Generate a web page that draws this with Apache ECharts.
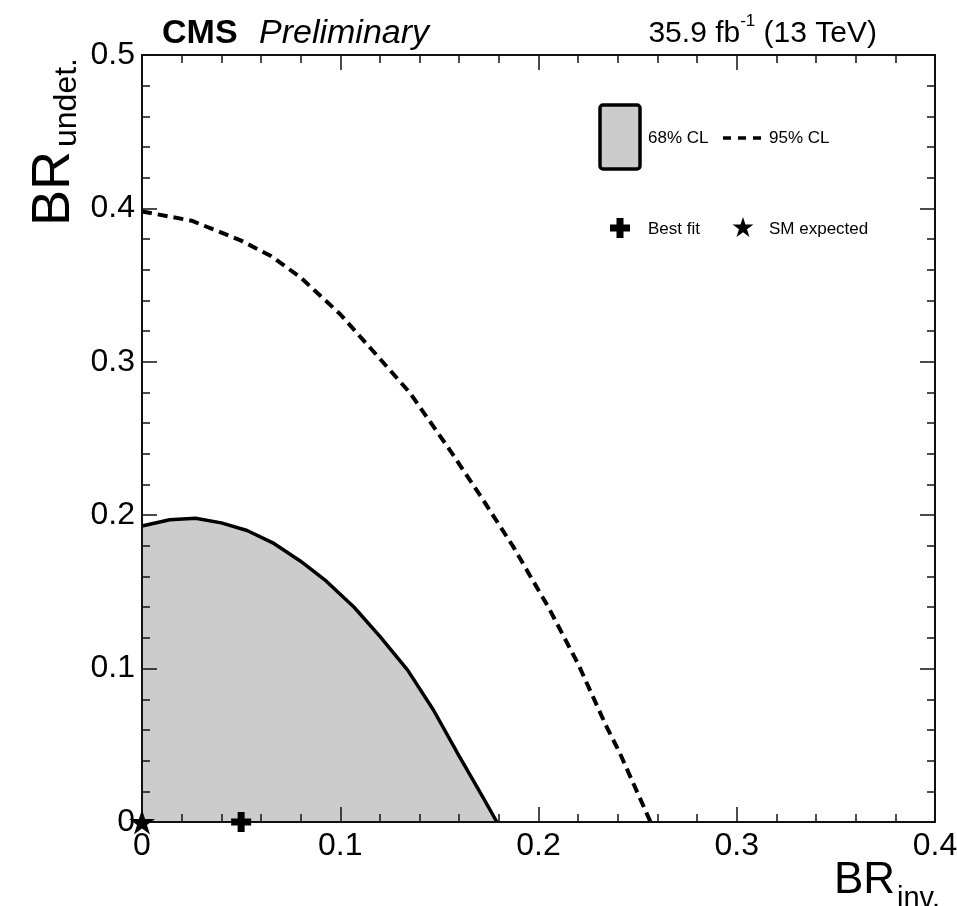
<!DOCTYPE html>
<html>
<head>
<meta charset="utf-8">
<script src="https://cdn.jsdelivr.net/npm/echarts@6/dist/echarts.min.js"></script>
<style>
html,body{margin:0;padding:0;background:#fff;}
#main{width:957px;height:906px;}
</style>
</head>
<body>
<div id="main"></div>
<script>
// ---- data ----
const xTicks = [0, 0.1, 0.2, 0.3, 0.4];
const yTicks = [0, 0.1, 0.2, 0.3, 0.4, 0.5];
// 68% CL contour (BR_inv, BR_undet)
const cl68X = [0, 0.014, 0.027, 0.040, 0.053, 0.066, 0.080, 0.093, 0.107, 0.120, 0.134, 0.147, 0.160, 0.172, 0.179];
const cl68Y = [0.193, 0.197, 0.198, 0.195, 0.190, 0.182, 0.170, 0.157, 0.140, 0.121, 0.099, 0.073, 0.043, 0.016, 0.000];
// 95% CL contour
const cl95X = [0, 0.025, 0.050, 0.065, 0.080, 0.100, 0.120, 0.135, 0.155, 0.170, 0.187, 0.205, 0.220, 0.234, 0.241, 0.2565];
const cl95Y = [0.398, 0.392, 0.379, 0.369, 0.355, 0.331, 0.302, 0.280, 0.243, 0.214, 0.180, 0.140, 0.103, 0.063, 0.045, 0.000];
const bestFit = [0.05, 0.0];
const smExpected = [0.0, 0.0];

const FONT = "'Liberation Sans', Arial, Helvetica, sans-serif";
const zip = (a, b) => a.map((v, i) => [v, b[i]]);

const plusPath = 'path://M6.5,0 H13.5 V6.5 H20 V13.5 H13.5 V20 H6.5 V13.5 H0 V6.5 H6.5 Z';
const starPath = 'path://M100,0 L122.45,69.1 L195.1,69.1 L136.3,111.8 L158.8,180.9 L100,138.2 L41.2,180.9 L63.7,111.8 L4.9,69.1 L77.55,69.1 Z';

function axisBase(show) {
  return {
    type: 'value',
    z: 10,
    axisLine: { show: true, onZero: false, lineStyle: { color: '#111', width: 2 } },
    axisTick: { show: true, inside: true, length: 15, lineStyle: { color: '#111', width: 1.5 } },
    minorTick: { show: true, splitNumber: 5, length: 8, lineStyle: { color: '#111', width: 1.5 } },
    splitLine: { show: false },
    minorSplitLine: { show: false },
    axisLabel: { show: show, color: '#000', fontSize: 32, fontFamily: FONT,
      formatter: v => String(+v.toFixed(2)) }
  };
}

const chart = echarts.init(document.getElementById('main'), null, { renderer: 'canvas' });
const option = {
  animation: false,
  backgroundColor: '#fff',
  grid: { left: 142, right: 22, top: 55, bottom: 84, containLabel: false, outerBoundsMode: 'none' },
  xAxis: [
    Object.assign(axisBase(true), { position: 'bottom', min: xTicks[0], max: xTicks[xTicks.length - 1], interval: 0.1,
      axisLabel: Object.assign(axisBase(true).axisLabel, { margin: 8 }) }),
    Object.assign(axisBase(false), { position: 'top', min: xTicks[0], max: xTicks[xTicks.length - 1], interval: 0.1 })
  ],
  yAxis: [
    Object.assign(axisBase(true), { position: 'left', min: yTicks[0], max: yTicks[yTicks.length - 1], interval: 0.1,
      axisLabel: Object.assign(axisBase(true).axisLabel, { margin: 7 }) }),
    Object.assign(axisBase(false), { position: 'right', min: yTicks[0], max: yTicks[yTicks.length - 1], interval: 0.1 })
  ],
  series: [
    {
      name: '68% CL', type: 'line', xAxisIndex: 0, yAxisIndex: 0,
      data: zip(cl68X, cl68Y), showSymbol: false, smooth: false,
      lineStyle: { color: '#000', width: 3.5 },
      areaStyle: { color: '#cccccc', opacity: 1 },
      z: 2
    },
    {
      name: '95% CL', type: 'line', xAxisIndex: 0, yAxisIndex: 0,
      data: zip(cl95X, cl95Y), showSymbol: false, smooth: false,
      lineStyle: { color: '#000', width: 4, type: [10, 6] },
      z: 3
    },
    {
      name: 'Best fit', type: 'scatter', data: [bestFit], clip: false,
      symbol: plusPath, symbolSize: 20, itemStyle: { color: '#000', opacity: 1 }, z: 20
    },
    {
      name: 'SM expected', type: 'scatter', data: [smExpected], clip: false,
      symbol: starPath, symbolSize: [26, 25], itemStyle: { color: '#000', opacity: 1 }, z: 30, zlevel: 1
    }
  ],
  graphic: [
    { type: 'text', x: 162, y: 34, style: { text: 'CMS', font: "bold 34px " + FONT, fill: '#000', textVerticalAlign: 'middle' } },
    { type: 'text', x: 259, y: 34, style: { text: 'Preliminary', font: "italic 34px " + FONT, fill: '#000', textVerticalAlign: 'middle' } },
    { type: 'text', x: 877, y: 13, style: {
        text: '{a|35.9 fb}{s|-1}{a| (13 TeV)}', textAlign: 'right', textVerticalAlign: 'top',
        rich: {
          a: { fontSize: 30, fontFamily: FONT, fill: '#000', lineHeight: 36, verticalAlign: 'bottom' },
          s: { fontSize: 17, fontFamily: FONT, fill: '#000', lineHeight: 20, verticalAlign: 'top' }
        } } },
    // x axis title
    { type: 'text', x: 895, y: 859, style: { text: 'BR', font: "44px " + FONT, fill: '#000', textAlign: 'right', textVerticalAlign: 'top' } },
    { type: 'text', x: 897, y: 884, style: { text: 'inv.', font: "29px " + FONT, fill: '#000', textAlign: 'left', textVerticalAlign: 'top' } },
    // y axis title (rotated)
    { type: 'text', x: 27, y: 226, rotation: Math.PI / 2, style: { text: 'BR', font: "54px " + FONT, fill: '#000', textAlign: 'left', textVerticalAlign: 'top' } },
    { type: 'text', x: 51, y: 147, rotation: Math.PI / 2, style: { text: 'undet.', font: "32px " + FONT, fill: '#000', textAlign: 'left', textVerticalAlign: 'top' } },
    // legend
    { type: 'rect', shape: { x: 600, y: 105, width: 40, height: 64, r: 3 }, style: { fill: '#cccccc', stroke: '#000', lineWidth: 3.5 } },
    { type: 'text', x: 648, y: 138, style: { text: '68% CL', font: "17px " + FONT, fill: '#000', textVerticalAlign: 'middle' } },
    { type: 'line', shape: { x1: 723, y1: 138, x2: 763, y2: 138 }, style: { stroke: '#000', lineWidth: 3.5, lineDash: [8, 7] } },
    { type: 'text', x: 769, y: 138, style: { text: '95% CL', font: "17px " + FONT, fill: '#000', textVerticalAlign: 'middle' } },
    { type: 'polygon', shape: { points: [[616.5,218],[623.5,218],[623.5,224.5],[630,224.5],[630,231.5],[623.5,231.5],[623.5,238],[616.5,238],[616.5,231.5],[610,231.5],[610,224.5],[616.5,224.5]] }, style: { fill: '#000' } },
    { type: 'text', x: 648, y: 229, style: { text: 'Best fit', font: "17px " + FONT, fill: '#000', textVerticalAlign: 'middle' } },
    { type: 'polygon', shape: { points: [[743,217],[745.47,224.6],[753.46,224.6],[746.99,229.3],[749.47,236.9],[743,232.2],[736.53,236.9],[739.01,229.3],[732.54,224.6],[740.53,224.6]] }, style: { fill: '#000' } },
    { type: 'text', x: 769, y: 229, style: { text: 'SM expected', font: "17px " + FONT, fill: '#000', textVerticalAlign: 'middle' } }
  ]
};
chart.setOption(option);
</script>
</body>
</html>
